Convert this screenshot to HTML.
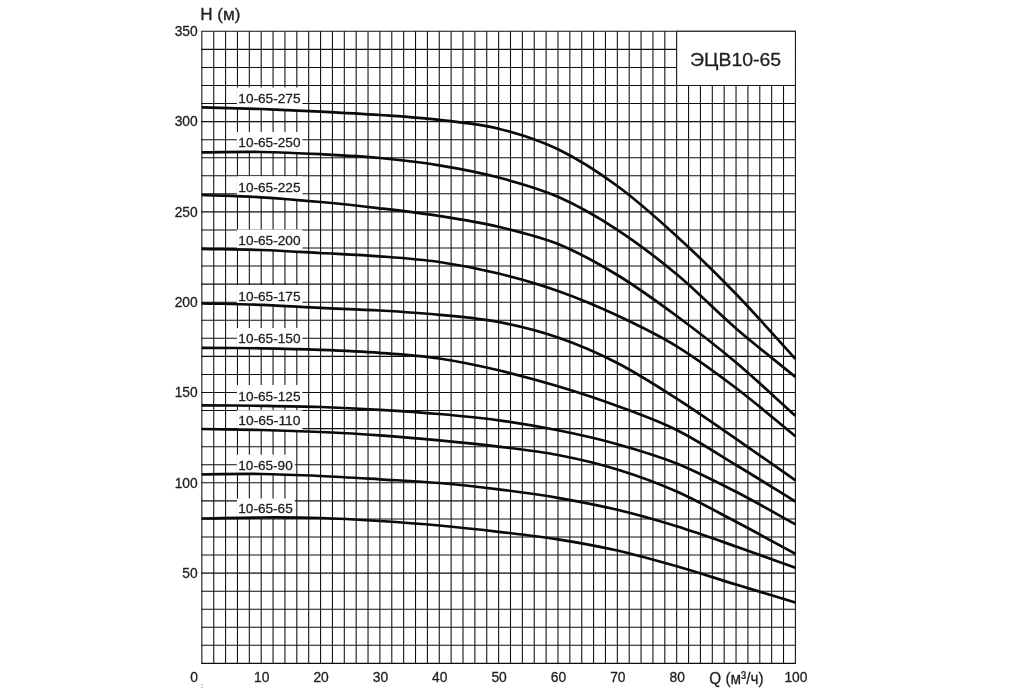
<!DOCTYPE html>
<html lang="ru"><head><meta charset="utf-8"><title>ЭЦВ10-65</title>
<style>
html,body{margin:0;padding:0;background:#fff;}
body{width:1024px;height:698px;overflow:hidden;position:relative;font-family:"Liberation Sans",Arial,sans-serif;}
svg{position:absolute;left:0;top:0;display:block;filter:grayscale(1)}
svg text{font-family:"Liberation Sans",Arial,sans-serif;fill:#1c1c1c;stroke:#1c1c1c;stroke-width:.3px}
.ax{font-size:13.8px}
.lb{font-size:13.1px}
.g line{stroke:#0e0e0e;stroke-width:1.06}
.c path{fill:none;stroke:#0a0a0a;stroke-width:2.7;stroke-linecap:butt}
</style></head><body>
<svg width="1024" height="698" viewBox="0 0 1024 698">
<rect width="1024" height="698" fill="#fff"/>

<g class="g">
<line x1="201.85" y1="31.30" x2="201.85" y2="663.40"/>
<line x1="213.72" y1="31.30" x2="213.72" y2="663.40"/>
<line x1="225.59" y1="31.30" x2="225.59" y2="663.40"/>
<line x1="237.46" y1="31.30" x2="237.46" y2="663.40"/>
<line x1="249.33" y1="31.30" x2="249.33" y2="663.40"/>
<line x1="261.20" y1="31.30" x2="261.20" y2="663.40"/>
<line x1="273.08" y1="31.30" x2="273.08" y2="663.40"/>
<line x1="284.95" y1="31.30" x2="284.95" y2="663.40"/>
<line x1="296.82" y1="31.30" x2="296.82" y2="663.40"/>
<line x1="308.69" y1="31.30" x2="308.69" y2="663.40"/>
<line x1="320.56" y1="31.30" x2="320.56" y2="663.40"/>
<line x1="332.43" y1="31.30" x2="332.43" y2="663.40"/>
<line x1="344.30" y1="31.30" x2="344.30" y2="663.40"/>
<line x1="356.17" y1="31.30" x2="356.17" y2="663.40"/>
<line x1="368.04" y1="31.30" x2="368.04" y2="663.40"/>
<line x1="379.91" y1="31.30" x2="379.91" y2="663.40"/>
<line x1="391.79" y1="31.30" x2="391.79" y2="663.40"/>
<line x1="403.66" y1="31.30" x2="403.66" y2="663.40"/>
<line x1="415.53" y1="31.30" x2="415.53" y2="663.40"/>
<line x1="427.40" y1="31.30" x2="427.40" y2="663.40"/>
<line x1="439.27" y1="31.30" x2="439.27" y2="663.40"/>
<line x1="451.14" y1="31.30" x2="451.14" y2="663.40"/>
<line x1="463.01" y1="31.30" x2="463.01" y2="663.40"/>
<line x1="474.88" y1="31.30" x2="474.88" y2="663.40"/>
<line x1="486.75" y1="31.30" x2="486.75" y2="663.40"/>
<line x1="498.62" y1="31.30" x2="498.62" y2="663.40"/>
<line x1="510.50" y1="31.30" x2="510.50" y2="663.40"/>
<line x1="522.37" y1="31.30" x2="522.37" y2="663.40"/>
<line x1="534.24" y1="31.30" x2="534.24" y2="663.40"/>
<line x1="546.11" y1="31.30" x2="546.11" y2="663.40"/>
<line x1="557.98" y1="31.30" x2="557.98" y2="663.40"/>
<line x1="569.85" y1="31.30" x2="569.85" y2="663.40"/>
<line x1="581.72" y1="31.30" x2="581.72" y2="663.40"/>
<line x1="593.59" y1="31.30" x2="593.59" y2="663.40"/>
<line x1="605.46" y1="31.30" x2="605.46" y2="663.40"/>
<line x1="617.34" y1="31.30" x2="617.34" y2="663.40"/>
<line x1="629.21" y1="31.30" x2="629.21" y2="663.40"/>
<line x1="641.08" y1="31.30" x2="641.08" y2="663.40"/>
<line x1="652.95" y1="31.30" x2="652.95" y2="663.40"/>
<line x1="664.82" y1="31.30" x2="664.82" y2="663.40"/>
<line x1="676.69" y1="31.30" x2="676.69" y2="663.40"/>
<line x1="688.56" y1="31.30" x2="688.56" y2="663.40"/>
<line x1="700.43" y1="31.30" x2="700.43" y2="663.40"/>
<line x1="712.30" y1="31.30" x2="712.30" y2="663.40"/>
<line x1="724.17" y1="31.30" x2="724.17" y2="663.40"/>
<line x1="736.04" y1="31.30" x2="736.04" y2="663.40"/>
<line x1="747.92" y1="31.30" x2="747.92" y2="663.40"/>
<line x1="759.79" y1="31.30" x2="759.79" y2="663.40"/>
<line x1="771.66" y1="31.30" x2="771.66" y2="663.40"/>
<line x1="783.53" y1="31.30" x2="783.53" y2="663.40"/>
<line x1="795.40" y1="31.30" x2="795.40" y2="663.40"/>
<line x1="201.35" y1="663.40" x2="795.90" y2="663.40"/>
<line x1="201.35" y1="645.34" x2="795.90" y2="645.34"/>
<line x1="201.35" y1="627.28" x2="795.90" y2="627.28"/>
<line x1="201.35" y1="609.22" x2="795.90" y2="609.22"/>
<line x1="201.35" y1="591.16" x2="795.90" y2="591.16"/>
<line x1="201.35" y1="573.10" x2="795.90" y2="573.10"/>
<line x1="201.35" y1="555.04" x2="795.90" y2="555.04"/>
<line x1="201.35" y1="536.98" x2="795.90" y2="536.98"/>
<line x1="201.35" y1="518.92" x2="795.90" y2="518.92"/>
<line x1="201.35" y1="500.86" x2="795.90" y2="500.86"/>
<line x1="201.35" y1="482.80" x2="795.90" y2="482.80"/>
<line x1="201.35" y1="464.74" x2="795.90" y2="464.74"/>
<line x1="201.35" y1="446.68" x2="795.90" y2="446.68"/>
<line x1="201.35" y1="428.62" x2="795.90" y2="428.62"/>
<line x1="201.35" y1="410.56" x2="795.90" y2="410.56"/>
<line x1="201.35" y1="392.50" x2="795.90" y2="392.50"/>
<line x1="201.35" y1="374.44" x2="795.90" y2="374.44"/>
<line x1="201.35" y1="356.38" x2="795.90" y2="356.38"/>
<line x1="201.35" y1="338.32" x2="795.90" y2="338.32"/>
<line x1="201.35" y1="320.26" x2="795.90" y2="320.26"/>
<line x1="201.35" y1="302.20" x2="795.90" y2="302.20"/>
<line x1="201.35" y1="284.14" x2="795.90" y2="284.14"/>
<line x1="201.35" y1="266.08" x2="795.90" y2="266.08"/>
<line x1="201.35" y1="248.02" x2="795.90" y2="248.02"/>
<line x1="201.35" y1="229.96" x2="795.90" y2="229.96"/>
<line x1="201.35" y1="211.90" x2="795.90" y2="211.90"/>
<line x1="201.35" y1="193.84" x2="795.90" y2="193.84"/>
<line x1="201.35" y1="175.78" x2="795.90" y2="175.78"/>
<line x1="201.35" y1="157.72" x2="795.90" y2="157.72"/>
<line x1="201.35" y1="139.66" x2="795.90" y2="139.66"/>
<line x1="201.35" y1="121.60" x2="795.90" y2="121.60"/>
<line x1="201.35" y1="103.54" x2="795.90" y2="103.54"/>
<line x1="201.35" y1="85.48" x2="795.90" y2="85.48"/>
<line x1="201.35" y1="67.42" x2="795.90" y2="67.42"/>
<line x1="201.35" y1="49.36" x2="795.90" y2="49.36"/>
<line x1="201.35" y1="31.30" x2="795.90" y2="31.30"/>
</g>
<rect x="676.69" y="31.30" width="118.71" height="54.18" fill="#fff" stroke="#151515" stroke-width="1"/>
<polygon fill="#fff" points="236.80,87.60 302.40,87.60 302.40,110.71 294.20,110.34 286.00,109.97 277.80,109.63 269.60,109.31 261.40,109.01 253.20,108.73 245.00,108.49 236.80,108.27"/>
<polygon fill="#fff" points="236.80,132.00 302.40,132.00 302.40,153.33 294.20,152.98 286.00,152.66 277.80,152.39 269.60,152.17 261.40,152.00 253.20,151.91 245.00,151.90 236.80,151.95"/>
<polygon fill="#fff" points="236.80,176.30 302.40,176.30 302.40,200.37 294.20,199.67 286.00,199.01 277.80,198.39 269.60,197.83 261.40,197.31 253.20,196.87 245.00,196.50 236.80,196.18"/>
<polygon fill="#fff" points="236.80,229.60 302.40,229.60 302.40,252.00 294.20,251.55 286.00,251.11 277.80,250.70 269.60,250.33 261.40,250.01 253.20,249.75 245.00,249.54 236.80,249.38"/>
<polygon fill="#fff" points="236.80,285.00 302.40,285.00 302.40,306.86 294.20,306.41 286.00,305.96 277.80,305.54 269.60,305.15 261.40,304.81 253.20,304.52 245.00,304.28 236.80,304.08"/>
<polygon fill="#fff" points="236.80,328.00 302.40,328.00 302.40,349.20 294.20,348.98 286.00,348.78 277.80,348.60 269.60,348.45 261.40,348.30 253.20,348.18 245.00,348.09 236.80,348.02"/>
<polygon fill="#fff" points="236.80,385.00 302.40,385.00 302.40,406.49 294.20,406.32 286.00,406.17 277.80,406.04 269.60,405.92 261.40,405.80 253.20,405.70 245.00,405.61 236.80,405.54"/>
<polygon fill="#fff" points="236.80,410.20 302.40,410.20 302.40,431.26 294.20,430.97 286.00,430.70 277.80,430.45 269.60,430.22 261.40,430.00 253.20,429.81 245.00,429.65 236.80,429.52"/>
<polygon fill="#fff" points="236.80,454.80 294.80,454.80 294.80,474.92 287.55,474.66 280.30,474.43 273.05,474.23 265.80,474.08 258.55,473.97 251.30,473.92 244.05,473.92 236.80,473.96"/>
<polygon fill="#fff" points="236.80,498.50 294.80,498.50 294.80,517.53 287.55,517.48 280.30,517.46 273.05,517.46 265.80,517.48 258.55,517.51 251.30,517.58 244.05,517.68 236.80,517.80"/>
<g class="c">
<path d="M201.85,107.40 C221.63,107.93 241.42,108.30 261.20,109.00 C280.99,109.70 300.77,110.60 320.56,111.60 C340.35,112.60 360.13,113.63 379.92,115.00 C399.70,116.37 419.48,117.52 439.27,119.80 C459.06,122.08 478.84,123.78 498.62,128.70 C518.41,133.62 538.20,139.75 557.98,149.30 C577.76,158.85 597.55,171.52 617.34,186.00 C637.12,200.48 656.90,218.20 676.69,236.20 C696.47,254.20 716.26,273.57 736.04,294.00 C755.83,314.43 775.62,337.20 795.40,358.80"/>
<path d="M201.85,152.30 C221.63,152.20 241.42,151.68 261.20,152.00 C280.99,152.32 300.77,153.20 320.56,154.20 C340.35,155.20 360.13,156.15 379.92,158.00 C399.70,159.85 419.48,162.05 439.27,165.30 C459.06,168.55 478.84,172.25 498.62,177.50 C518.41,182.75 538.20,188.08 557.98,196.80 C577.76,205.52 597.55,216.88 617.34,229.80 C637.12,242.72 656.90,257.85 676.69,274.30 C696.47,290.75 716.26,311.38 736.04,328.50 C755.83,345.62 775.62,360.83 795.40,377.00"/>
<path d="M201.85,195.00 C221.63,195.77 241.42,196.13 261.20,197.30 C280.99,198.47 300.77,200.17 320.56,202.00 C340.35,203.83 360.13,205.97 379.92,208.30 C399.70,210.63 419.48,212.92 439.27,216.00 C459.06,219.08 478.84,222.13 498.62,226.80 C518.41,231.47 538.20,235.97 557.98,244.00 C577.76,252.03 597.55,263.00 617.34,275.00 C637.12,287.00 656.90,301.42 676.69,316.00 C696.47,330.58 716.26,345.87 736.04,362.50 C755.83,379.13 775.62,398.03 795.40,415.80"/>
<path d="M201.85,248.80 C221.63,249.20 241.42,249.30 261.20,250.00 C280.99,250.70 300.77,251.95 320.56,253.00 C340.35,254.05 360.13,254.80 379.92,256.30 C399.70,257.80 419.48,259.13 439.27,262.00 C459.06,264.87 478.84,268.67 498.62,273.50 C518.41,278.33 538.20,284.00 557.98,291.00 C577.76,298.00 597.55,306.28 617.34,315.50 C637.12,324.72 656.90,334.22 676.69,346.30 C696.47,358.38 716.26,373.00 736.04,388.00 C755.83,403.00 775.62,420.20 795.40,436.30"/>
<path d="M201.85,303.30 C221.63,303.80 241.42,304.05 261.20,304.80 C280.99,305.55 300.77,306.85 320.56,307.80 C340.35,308.75 360.13,309.33 379.92,310.50 C399.70,311.67 419.48,312.88 439.27,314.80 C459.06,316.72 478.84,318.22 498.62,322.00 C518.41,325.78 538.20,330.67 557.98,337.50 C577.76,344.33 597.55,352.82 617.34,363.00 C637.12,373.18 656.90,385.97 676.69,398.60 C696.47,411.23 716.26,425.17 736.04,438.80 C755.83,452.43 775.62,466.53 795.40,480.40"/>
<path d="M201.85,347.80 C221.63,347.97 241.42,347.97 261.20,348.30 C280.99,348.63 300.77,349.05 320.56,349.80 C340.35,350.55 360.13,351.35 379.92,352.80 C399.70,354.25 419.48,355.58 439.27,358.50 C459.06,361.42 478.84,365.67 498.62,370.30 C518.41,374.93 538.20,380.35 557.98,386.30 C577.76,392.25 597.55,398.72 617.34,406.00 C637.12,413.28 656.90,420.17 676.69,430.00 C696.47,439.83 716.26,453.08 736.04,465.00 C755.83,476.92 775.62,489.33 795.40,501.50"/>
<path d="M201.85,405.30 C221.63,405.47 241.42,405.52 261.20,405.80 C280.99,406.08 300.77,406.33 320.56,407.00 C340.35,407.67 360.13,408.63 379.92,409.80 C399.70,410.97 419.48,412.25 439.27,414.00 C459.06,415.75 478.84,417.58 498.62,420.30 C518.41,423.02 538.20,426.32 557.98,430.30 C577.76,434.28 597.55,438.67 617.34,444.20 C637.12,449.73 656.90,455.57 676.69,463.50 C696.47,471.43 716.26,481.67 736.04,491.80 C755.83,501.93 775.62,513.47 795.40,524.30"/>
<path d="M201.85,429.00 C221.63,429.33 241.42,429.50 261.20,430.00 C280.99,430.50 300.77,431.12 320.56,432.00 C340.35,432.88 360.13,433.92 379.92,435.30 C399.70,436.68 419.48,438.42 439.27,440.30 C459.06,442.18 478.84,444.15 498.62,446.60 C518.41,449.05 538.20,451.18 557.98,455.00 C577.76,458.82 597.55,463.42 617.34,469.50 C637.12,475.58 656.90,482.78 676.69,491.50 C696.47,500.22 716.26,511.42 736.04,521.80 C755.83,532.18 775.62,543.13 795.40,553.80"/>
<path d="M201.85,474.30 C221.63,474.20 241.42,473.72 261.20,474.00 C280.99,474.28 300.77,475.12 320.56,476.00 C340.35,476.88 360.13,478.13 379.92,479.30 C399.70,480.47 419.48,481.33 439.27,483.00 C459.06,484.67 478.84,486.83 498.62,489.30 C518.41,491.77 538.20,494.38 557.98,497.80 C577.76,501.22 597.55,505.05 617.34,509.80 C637.12,514.55 656.90,520.18 676.69,526.30 C696.47,532.42 716.26,539.58 736.04,546.50 C755.83,553.42 775.62,560.70 795.40,567.80"/>
<path d="M201.85,518.50 C221.63,518.17 241.42,517.58 261.20,517.50 C280.99,517.42 300.77,517.42 320.56,518.00 C340.35,518.58 360.13,519.75 379.92,521.00 C399.70,522.25 419.48,523.70 439.27,525.50 C459.06,527.30 478.84,529.50 498.62,531.80 C518.41,534.10 538.20,536.18 557.98,539.30 C577.76,542.42 597.55,546.00 617.34,550.50 C637.12,555.00 656.90,560.63 676.69,566.30 C696.47,571.97 716.26,578.47 736.04,584.50 C755.83,590.53 775.62,596.50 795.40,602.50"/>
</g>
<g opacity="0.99">
<text x="690.1" y="66.2" style="font-size:19px" textLength="91.0" lengthAdjust="spacingAndGlyphs">ЭЦВ10-65</text>
<text class="lb" x="238.3" y="103.30" textLength="62.2" lengthAdjust="spacingAndGlyphs">10-65-275</text>
<text class="lb" x="238.3" y="146.80" textLength="62.2" lengthAdjust="spacingAndGlyphs">10-65-250</text>
<text class="lb" x="238.3" y="191.50" textLength="62.2" lengthAdjust="spacingAndGlyphs">10-65-225</text>
<text class="lb" x="238.3" y="245.10" textLength="62.2" lengthAdjust="spacingAndGlyphs">10-65-200</text>
<text class="lb" x="238.3" y="300.60" textLength="62.2" lengthAdjust="spacingAndGlyphs">10-65-175</text>
<text class="lb" x="238.3" y="343.10" textLength="62.2" lengthAdjust="spacingAndGlyphs">10-65-150</text>
<text class="lb" x="238.3" y="400.50" textLength="62.2" lengthAdjust="spacingAndGlyphs">10-65-125</text>
<text class="lb" x="238.3" y="424.80" textLength="62.2" lengthAdjust="spacingAndGlyphs">10-65-110</text>
<text class="lb" x="238.3" y="469.70" textLength="54.4" lengthAdjust="spacingAndGlyphs">10-65-90</text>
<text class="lb" x="238.3" y="513.10" textLength="54.4" lengthAdjust="spacingAndGlyphs">10-65-65</text>
<text class="ax" x="197.7" y="577.90" text-anchor="end">50</text>
<text class="ax" x="197.7" y="487.60" text-anchor="end">100</text>
<text class="ax" x="197.7" y="397.30" text-anchor="end">150</text>
<text class="ax" x="197.7" y="307.00" text-anchor="end">200</text>
<text class="ax" x="197.7" y="216.70" text-anchor="end">250</text>
<text class="ax" x="197.7" y="126.40" text-anchor="end">300</text>
<text class="ax" x="197.7" y="36.10" text-anchor="end">350</text>
<text class="ax" x="197.9" y="681.5" text-anchor="end">0</text>
<text class="ax" x="261.70" y="681.5" text-anchor="middle">10</text>
<text class="ax" x="321.06" y="681.5" text-anchor="middle">20</text>
<text class="ax" x="380.41" y="681.5" text-anchor="middle">30</text>
<text class="ax" x="439.77" y="681.5" text-anchor="middle">40</text>
<text class="ax" x="499.12" y="681.5" text-anchor="middle">50</text>
<text class="ax" x="558.48" y="681.5" text-anchor="middle">60</text>
<text class="ax" x="617.84" y="681.5" text-anchor="middle">70</text>
<text class="ax" x="677.19" y="681.5" text-anchor="middle">80</text>
<text class="ax" x="795.90" y="681.5" text-anchor="middle">100</text>
<text x="200.2" y="19.7" style="font-size:16.5px" textLength="40.2" lengthAdjust="spacingAndGlyphs">H (м)</text>
<text x="709.3" y="683.5" style="font-size:17px" textLength="54.2" lengthAdjust="spacingAndGlyphs">Q (м³/ч)</text>
</g>
<rect x="201.2" y="684.1" width="1.8" height="0.7" fill="#8a8a8a"/><rect x="201.2" y="686.9" width="1.8" height="0.7" fill="#9a9a9a"/>
</svg></body></html>
